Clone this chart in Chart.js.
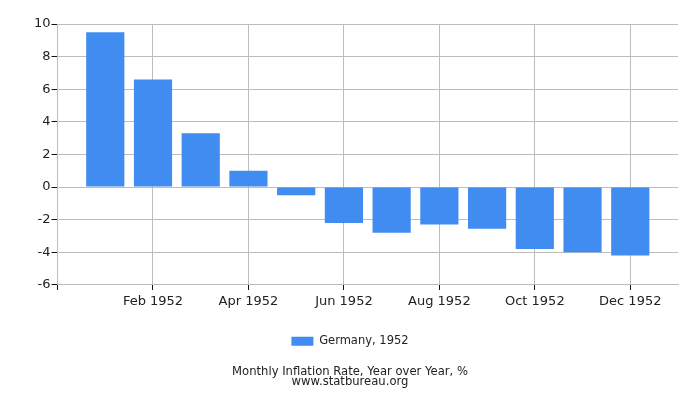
<!DOCTYPE html>
<html>
<head>
<meta charset="utf-8">
<script src="https://cdn.jsdelivr.net/npm/chart.js@4"></script>
<style>
  body { margin: 0; background: #fff; }
  #wrap { width: 700px; height: 400px; }
</style>
</head>
<body>
<div id="wrap"><canvas id="myChart"></canvas></div>
<script>
const months = ['Jan 1952', 'Feb 1952', 'Mar 1952', 'Apr 1952', 'May 1952', 'Jun 1952',
  'Jul 1952', 'Aug 1952', 'Sep 1952', 'Oct 1952', 'Nov 1952', 'Dec 1952'];
const germany = [9.5, 6.6, 3.3, 1.0, -0.5, -2.2, -2.8, -2.3, -2.55, -3.8, -4.0, -4.2];
const yTicks = [-6, -4, -2, 0, 2, 4, 6, 8, 10];

// one empty slot at each end so the months sit between the plot edges
const labels = [''].concat(months, ['']);
const values = [null].concat(germany, [null]);

const gridColor = '#bdbdbd';
const ctx = document.getElementById('myChart').getContext('2d');
const myChart = new Chart(ctx, {
  type: 'bar',
  data: {
    labels: labels,
    datasets: [
      {
        label: 'Germany, 1952',
        data: values,
        backgroundColor: '#418cf0',
        borderWidth: 0,
        barPercentage: 0.8,
        categoryPercentage: 1
      }
    ]
  },
  options: {
    responsive: true,
    maintainAspectRatio: false,
    animation: false,
    layout: { padding: { left: 22, right: 22, top: 24, bottom: 13 } },
    scales: {
      x: {
        offset: false,
        grid: {
          offset: false,
          color: (c) => (c.index % 2 === 0) ? gridColor : 'rgba(0,0,0,0)',
          tickLength: 5,
          tickColor: (c) => (c.index % 2 === 0 && c.index < 13) ? '#111' : 'rgba(0,0,0,0)'
        },
        border: { color: gridColor },
        ticks: {
          autoSkip: false,
          maxRotation: 0,
          color: '#222',
          padding: 4,
          font: { family: 'DejaVu Sans', size: 13 },
          callback: (v, i) => (i % 2 === 0) ? labels[i] : ''
        }
      },
      y: {
        min: yTicks[0],
        max: yTicks[yTicks.length - 1],
        afterBuildTicks: (axis) => { axis.ticks = yTicks.map(v => ({ value: v })); },
        afterFit: (axis) => { axis.width += 11; },
        grid: { color: gridColor, tickLength: 6, tickColor: '#111' },
        border: { color: gridColor },
        ticks: {
          color: '#222',
          padding: 1,
          font: { family: 'DejaVu Sans', size: 13 }
        }
      }
    },
    plugins: {
      legend: {
        position: 'bottom',
        labels: {
          color: '#222',
          boxWidth: 22,
          boxHeight: 9,
          padding: 22,
          font: { family: 'DejaVu Sans', size: 11.5 }
        }
      },
      title: {
        display: true,
        position: 'bottom',
        text: ['Monthly Inflation Rate, Year over Year, %', 'www.statbureau.org'],
        color: '#222',
        padding: { top: 10, bottom: 0 },
        font: { family: 'DejaVu Sans', size: 11.6, weight: 'normal', lineHeight: 0.86 }
      },
      tooltip: { enabled: false }
    }
  }
});
</script>
</body>
</html>
